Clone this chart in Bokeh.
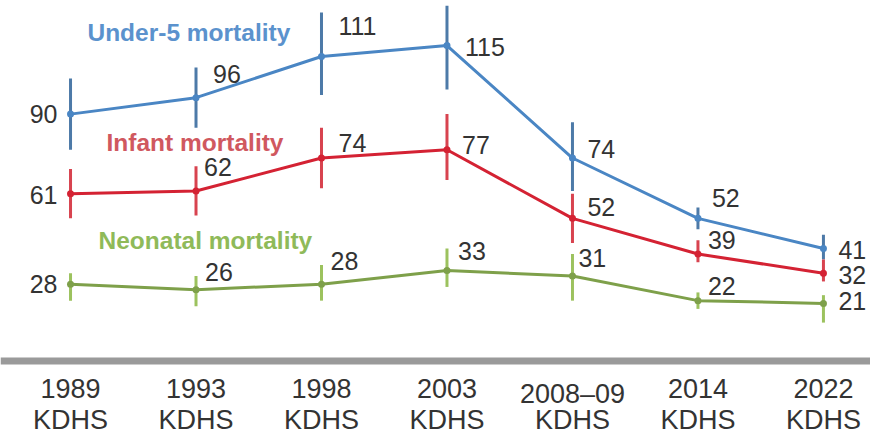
from bokeh.plotting import figure
from bokeh.models import Range1d, Label, ColumnDataSource, Span
from bokeh.core.properties import value
from bokeh.embed import file_html
from bokeh.resources import INLINE

# ---- data ----
surveys = ["1989\nKDHS", "1993\nKDHS", "1998\nKDHS", "2003\nKDHS",
           "2008\u201309\nKDHS", "2014\nKDHS", "2022\nKDHS"]
under5 = [90, 96, 111, 115, 74, 52, 41]
under5_lo = [77, 85, 97, 99, 62, 48, 37]
under5_hi = [103, 107, 127, 129.5, 87, 56, 46]
infant = [61, 62, 74, 77, 52, 39, 32]
infant_lo = [52, 53, 63, 66, 43, 36, 29]
infant_hi = [70, 71, 85, 90, 61, 44, 37]
neonatal = [28, 26, 28, 33, 31, 22, 21]
neonatal_lo = [22, 20, 22, 27, 22, 19, 14]
neonatal_hi = [32, 31, 35, 41, 39, 25, 24]
series_names = ["Under-5 mortality", "Infant mortality", "Neonatal mortality"]

# ---- layout / style (label offsets in pixels) ----
u5_off = [(-13, 0), (17, -24), (17, -31), (18, 1), (15, -9), (14, -20), (15, 1)]
inf_off = [(-13, 1), (8, -24), (17, -15), (15, -5), (15, -11), (10, -14), (15, 2)]
neo_off = [(-13, 0), (9, -18), (9, -23), (11, -19), (6, -18), (10, -15), (15, -2)]
name_pos = [(0.135, 119.8), (0.287, 79.7), (0.223, 43.9)]
cat_line_offsets = [18, 44]

line_cols = ["#4a86c4", "#d42233", "#7ea04a"]
bar_cols = ["#4d7aa8", "#d8434f", "#9cc25e"]
text_cols = ["#5b92cd", "#d0585f", "#8fba59"]
FONT = "Liberation Sans"

x = list(range(len(surveys)))

p = figure(width=870, height=435, output_backend="svg", toolbar_location=None,
           x_range=Range1d(-0.558, 6.375), y_range=Range1d(-27.16, 131.42),
           min_border_left=0, min_border_right=0, min_border_top=0,
           min_border_bottom=0)
p.outline_line_color = None
p.xgrid.grid_line_color = None
p.ygrid.grid_line_color = None
p.xaxis.visible = False
p.yaxis.visible = False

# baseline (x axis line)
p.add_layout(Span(location=0, dimension="width", line_color="#9a9a9a",
                  line_width=7))

# category labels below the baseline, one text row per label line
for row, off in enumerate(cat_line_offsets):
    cat_src = ColumnDataSource(dict(x=x, y=[0] * len(x),
                                    text=[s.split("\n")[row] for s in surveys]))
    p.text(x="x", y="y", text="text", source=cat_src, y_offset=off,
           text_align="center", text_baseline="top",
           text_font=value(FONT), text_font_size="27px", text_color="#333333")

all_series = [(under5, under5_lo, under5_hi, u5_off),
              (infant, infant_lo, infant_hi, inf_off),
              (neonatal, neonatal_lo, neonatal_hi, neo_off)]

for k, (vals, lo, hi, offs) in enumerate(all_series):
    p.line(x, vals, line_color=line_cols[k], line_width=3)
    p.segment(x0=x, y0=lo, x1=x, y1=hi, line_color=bar_cols[k], line_width=3)
    p.scatter(x, vals, marker="circle", size=7, fill_color=line_cols[k],
              line_color=None)
    src = ColumnDataSource(dict(
        x=x, y=vals, text=[str(v) for v in vals],
        dx=[o[0] for o in offs], dy=[o[1] for o in offs],
        align=["right"] + ["left"] * (len(vals) - 1)))
    p.text(x="x", y="y", text="text", source=src, x_offset="dx", y_offset="dy",
           text_align="align", text_baseline="middle",
           text_font=value(FONT), text_font_size="25px", text_color="#333333")
    lx, ly = name_pos[k]
    p.add_layout(Label(x=lx, y=ly, text=series_names[k], text_font=FONT,
                       text_font_size="24.5px", text_font_style="bold",
                       text_color=text_cols[k], text_baseline="middle"))

open("out.html", "w").write(file_html(p, INLINE))
